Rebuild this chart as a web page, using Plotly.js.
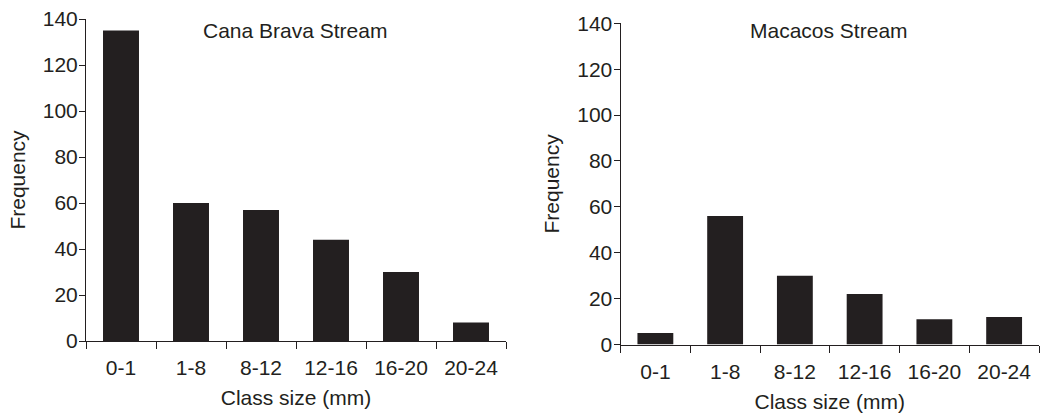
<!DOCTYPE html>
<html>
<head>
<meta charset="utf-8">
<script src="https://cdn.plot.ly/plotly-3.0.1.min.js"></script>
<style>html,body{margin:0;padding:0;background:#fff;}#chart{width:1040px;height:416px;}</style>
</head>
<body>
<div id="chart"></div>
<script>
var categories = ["0-1", "1-8", "8-12", "12-16", "16-20", "20-24"];
var canaBravaValues = [135, 60, 57, 44, 30, 8];
var macacosValues = [5, 56, 30, 22, 11, 12];
var yTickValues = [0, 20, 40, 60, 80, 100, 120, 140];
var panelTitles = ["Cana Brava Stream", "Macacos Stream"];
var xTitle = "Class size (mm)";
var yTitle = "Frequency";

var ink = "#231f20";
var fontFamily = "Liberation Sans, Arial, Helvetica, sans-serif";
var fs = 21;

var traces = [
  {type: "bar", x: categories, y: canaBravaValues, xaxis: "x", yaxis: "y",
   marker: {color: ink, line: {width: 0}}, hoverinfo: "x+y"},
  {type: "bar", x: categories, y: macacosValues, xaxis: "x2", yaxis: "y2",
   marker: {color: ink, line: {width: 0}}, hoverinfo: "x+y"}
];

function xAxis(domain, anchor) {
  return {
    domain: domain, anchor: anchor, type: "category",
    range: [-0.5, 5.5],
    showline: true, linecolor: ink, linewidth: 1,
    ticks: "outside", tickson: "boundaries", ticklen: 7, tickcolor: ink, tickwidth: 1,
    showgrid: false, zeroline: false,
    tickfont: {family: fontFamily, size: fs, color: ink},
    ticklabelstandoff: 8,
    title: {text: xTitle, font: {family: fontFamily, size: fs, color: ink}, standoff: 12},
    automargin: false, fixedrange: true
  };
}
function yAxis(domain, anchor) {
  return {
    domain: domain, anchor: anchor,
    range: [0, 140], tickvals: yTickValues,
    showline: true, linecolor: ink, linewidth: 1,
    ticks: "outside", ticklen: 6, tickcolor: ink, tickwidth: 1,
    showgrid: false, zeroline: false,
    tickfont: {family: fontFamily, size: fs, color: ink},
    ticklabelstandoff: -3,
    title: {text: yTitle, font: {family: fontFamily, size: fs, color: ink}, standoff: 11},
    automargin: false, fixedrange: true
  };
}

var layout = {
  width: 1040, height: 416,
  margin: {l: 0, r: 0, t: 0, b: 0},
  paper_bgcolor: "#fff", plot_bgcolor: "#fff",
  showlegend: false,
  bargap: 0.486,
  font: {family: fontFamily, color: ink},
  xaxis: xAxis([86/1040, 506/1040], "y"),
  yaxis: yAxis([(416-341)/416, (416-19)/416], "x"),
  xaxis2: xAxis([620.5/1040, 1039/1040], "y2"),
  yaxis2: yAxis([(416-344.5)/416, (416-23.3)/416], "x2"),
  annotations: [
    {text: panelTitles[0], xref: "paper", yref: "paper", x: 295/1040, y: (416-31)/416,
     xanchor: "center", yanchor: "middle", showarrow: false,
     font: {family: fontFamily, size: fs, color: ink}},
    {text: panelTitles[1], xref: "paper", yref: "paper", x: 829/1040, y: (416-31)/416,
     xanchor: "center", yanchor: "middle", showarrow: false,
     font: {family: fontFamily, size: fs, color: ink}}
  ]
};

Plotly.newPlot("chart", traces, layout, {staticPlot: true, displayModeBar: false});
</script>
</body>
</html>
